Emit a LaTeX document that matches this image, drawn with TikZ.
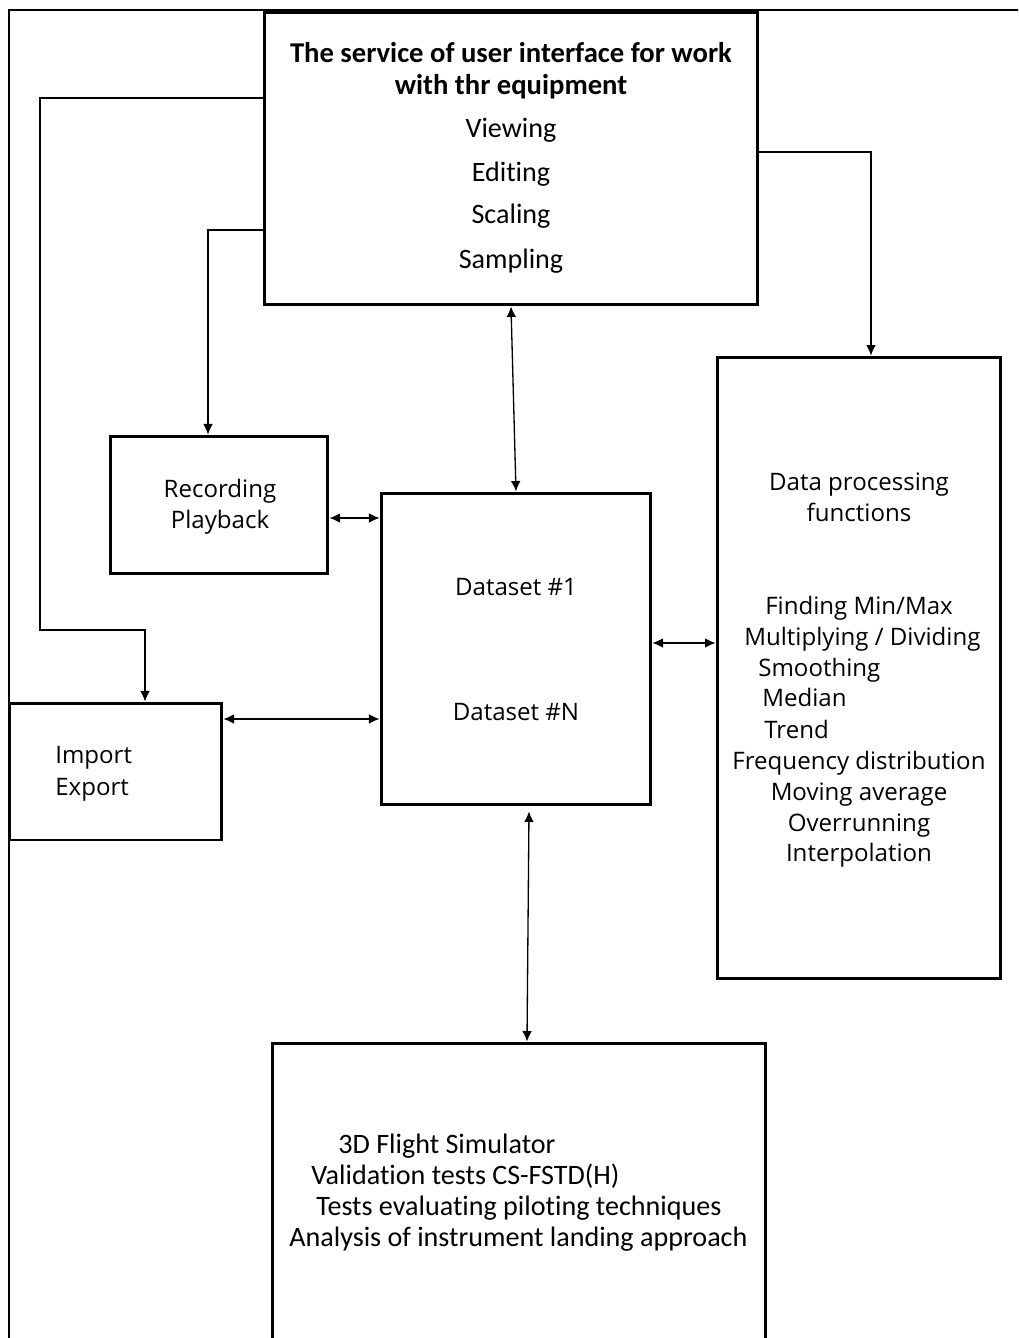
\documentclass[tikz,border=0pt]{standalone}
\usepackage{fontspec}
\setmainfont[RawFeature=-liga]{Carlito}
\newfontfamily\segoe{Open Sans}
\usetikzlibrary{arrows.meta}
\usetikzlibrary{calc}

\begin{document}
\begin{tikzpicture}[
		x=0.02cm, y=-0.02cm,
		> = {Latex[length=6pt,width=5.5pt]},
		box/.style = {draw, line width=1.7pt, inner sep=0pt},
		cal/.style = {inner sep=0pt, anchor=base, font=\fontsize{16}{19}\selectfont},
		seg/.style = {inner sep=0pt, anchor=base, font=\segoe\fontsize{13.7}{16}\selectfont},
		link/.style = {line width=0.75pt}
		]

	\useasboundingbox (0,0) rectangle (1018,1338);
	\clip (0,0) rectangle (1018,1338);

	\draw[line width=0.85pt] (1030,10) -- (9,10) -- (9,1350);

	% boxes
	\node[box, minimum width=9.88cm, minimum height=5.86cm] (ui) at (511,158.5) {};
	\node[box, minimum width=4.36cm, minimum height=2.76cm] (rec) at (219,505) {};
	\node[box, minimum width=5.4cm, minimum height=6.24cm] (ds) at (516,649) {};
	\node[box, minimum width=5.68cm, minimum height=12.44cm] (dp) at (859,668) {};
	\node[box, minimum width=4.26cm, minimum height=2.74cm] (imp) at (115.5,771.5) {};
	\node[box, minimum width=9.88cm, minimum height=7.14cm] (app) at (519,1221.5) {};

	% service of user interface
	\node[cal, font=\bfseries\fontsize{16.3}{19}\selectfont] (ui1) at (511,63) {The service of user interface for work};
	\node[cal, font=\bfseries\fontsize{16.3}{19}\selectfont] (ui2) at (511,95) {with thr equipment};
	\node[cal] (ui3) at (511,138) {Viewing};
	\node[cal] (ui4) at (511,182) {Editing};
	\node[cal] (ui5) at (511,224) {Scaling};
	\node[cal] (ui6) at (511,268) {Sampling};

	\node[seg] (rec1) at (220,497) {Recording};
	\node[seg] (rec2) at (220,528) {Playback};

	\node[seg] (ds1) at (516,595) {Dataset \#1};
	\node[seg] (ds2) at (516,720) {Dataset \#N};

	\node[seg, anchor=base west] (imp1) at (55,763) {Import};
	\node[seg, anchor=base west] (imp2) at (55,795) {Export};

	% data processing functions
	\node[seg] (dp1) at (859,490) {Data processing};
	\node[seg] (dp2) at (859,521) {functions};
	\node[seg] (dp3) at (859,614) {Finding Min/Max};
	\node[seg, anchor=base west] (dp4) at (744,645) {Multiplying / Dividing};
	\node[seg, anchor=base west] (dp5) at (758,676) {Smoothing};
	\node[seg, anchor=base west] (dp6) at (762,706) {Median};
	\node[seg, anchor=base west] (dp7) at (764,738) {Trend};
	\node[seg] (dp8) at (859,769) {Frequency distribution};
	\node[seg] (dp9) at (859,800) {Moving average};
	\node[seg] (dp10) at (859,831) {Overrunning};
	\node[seg] (dp11) at (859,861) {Interpolation};

	% applications
	\node[cal, anchor=base west] (app1) at (338,1153) {3D Flight Simulator};
	\node[cal, anchor=base west] (app2) at (311,1184) {Validation tests CS-FSTD(H)};
	\node[cal, anchor=base west] (app3) at (316,1215) {Tests evaluating piloting techniques};
	\node[cal, anchor=base west] (app4) at (289,1246) {Analysis of instrument landing approach};

	% connectors
	\coordinate (k1) at (40,98);
	\coordinate (k2) at (40,630);
	\coordinate (k3) at (145,630);
	\coordinate (k4) at (208,230);
	\coordinate (k5) at (871,152);
	\coordinate (k6) at (0,518);
	\coordinate (k7) at (0,719);
	\coordinate (k8) at (0,643);

	\draw[link,->] (ui.west |- k1) -- (k1) -- (k2) -- (k3) -- (k3 |- imp.north);
	\draw[link,->] (ui.west |- k4) -- (k4) -- (k4 |- rec.north);
	\draw[link,->] (ui.east |- k5) -- (k5) -- (k5 |- dp.north);
	\draw[link,<->] (ui.south) -- (ds.north);
	\draw[link,<->] (rec.east |- k6) -- (ds.west |- k6);
	\draw[link,<->] (imp.east |- k7) -- (ds.west |- k7);
	\draw[link,<->] (ds.east |- k8) -- (dp.west |- k8);
	\draw[link,<->] ([shift={(13,5)}]ds.south) -- ([shift={(8,0)}]app.north);
\end{tikzpicture}
\end{document}
